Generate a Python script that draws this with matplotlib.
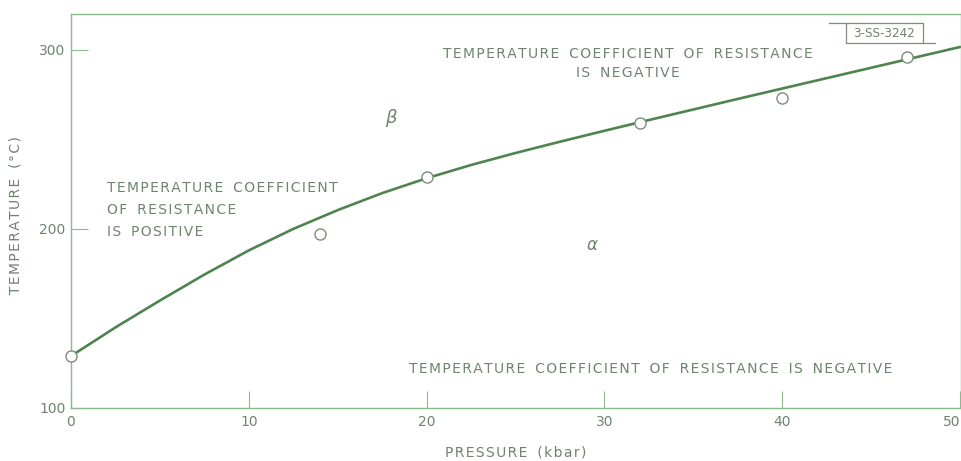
import matplotlib
matplotlib.use("Agg")
import matplotlib.pyplot as plt
from matplotlib.lines import Line2D
from matplotlib.patches import Rectangle

# --- data ---
pressure_pts = [0, 14, 20, 32, 40, 47]
temp_pts = [129, 197, 229, 259, 273, 296]

curve_p = [0, 2.5, 5, 7.5, 10, 12.5, 15, 17.5, 20, 22.5, 25, 27.5, 30,
           32.5, 35, 37.5, 40, 42.5, 45, 47.5, 50]
curve_t = [129, 145, 160, 174.5, 188, 200, 210.5, 220, 228.3, 235.7, 242.4,
           248.7, 254.8, 260.8, 266.7, 272.6, 278.4, 284.2, 290, 295.8, 301.6]

x_ticks = [0, 10, 20, 30, 40, 50]
y_ticks = [100, 200, 300]

LINE = "#4f844f"
AXIS = "#8cba8c"
TEXT = "#6f836f"
MARK = "#7d8c7d"

plt.rcParams['font.family'] = ['DejaVu Sans']


def spaced(s):
    # lettering on the original is widely tracked; hair spaces between letters,
    # a thin space added to each word gap
    lines = []
    for line in s.split("\n"):
        words = ["\u200a".join(w) for w in line.split(" ")]
        lines.append("\u200a \u2009\u200a".join(words))
    return "\n".join(lines)


fig = plt.figure(figsize=(9.62, 4.61), dpi=100)
ax = fig.add_axes([0.0738, 0.115, 0.9252, 0.8546])

ax.plot(curve_p, curve_t, color=LINE, lw=1.9, solid_joinstyle='round',
        solid_capstyle='round', zorder=2)
ax.plot(pressure_pts, temp_pts, 'o', ms=8, mfc='white', mec=MARK, mew=1.0,
        zorder=3, clip_on=False)

ax.set_xlim(0, 50.05)
ax.set_ylim(100, 320)
ax.set_xticks(x_ticks)
ax.set_yticks(y_ticks)
ax.tick_params(direction='in', length=12, width=0.8, color=AXIS,
               labelcolor=TEXT, labelsize=10)
ax.tick_params(axis='x', pad=5)
ax.tick_params(axis='y', pad=4)
ax.get_xticklabels()[-1].set_horizontalalignment('right')
for s in ax.spines.values():
    s.set_color(AXIS)
    s.set_linewidth(1.0)

ax.set_xlabel(spaced("PRESSURE (kbar)"), color=TEXT, fontsize=10)
ax.xaxis.set_label_coords(0.5, -0.095)
ax.set_ylabel(spaced("TEMPERATURE (°C)"), color=TEXT, fontsize=10)
ax.yaxis.set_label_coords(-0.055, 0.49)

txt = dict(color=TEXT, fontsize=10)
ax.text(31.3, 292.5, spaced("TEMPERATURE COEFFICIENT OF RESISTANCE\nIS NEGATIVE"),
        ha='center', va='center', linespacing=1.45, **txt)
ax.text(2.0, 227, spaced("TEMPERATURE COEFFICIENT\nOF RESISTANCE\nIS POSITIVE"),
        ha='left', va='top', linespacing=1.75, **txt)
ax.text(32.6, 122,
        spaced("TEMPERATURE COEFFICIENT OF RESISTANCE IS NEGATIVE"),
        ha='center', va='center', **txt)
ax.text(18.0, 262, r"$\beta$", ha='center', va='center', color=TEXT,
        fontsize=13)
ax.text(29.3, 191, r"$\alpha$", ha='center', va='center', color=TEXT,
        fontsize=12)

# drawing number tag in the top right corner
W, H = 962, 461
fig.add_artist(Rectangle((846 / W, 1 - 43 / H), 77 / W, 20 / H,
                         transform=fig.transFigure, fill=False,
                         ec=MARK, lw=0.9))
fig.add_artist(Line2D([829 / W, 846 / W], [1 - 23 / H, 1 - 23 / H],
                      transform=fig.transFigure, color=MARK, lw=0.9))
fig.add_artist(Line2D([923 / W, 935 / W], [1 - 43 / H, 1 - 43 / H],
                      transform=fig.transFigure, color=MARK, lw=0.9))
fig.text(884.5 / W, 1 - 33 / H, "3-SS-3242", ha='center', va='center',
         color=TEXT, fontsize=9.5, fontstretch='condensed',
         family=['Liberation Sans Narrow', 'DejaVu Sans'])

fig.savefig("out.png", dpi=100)
